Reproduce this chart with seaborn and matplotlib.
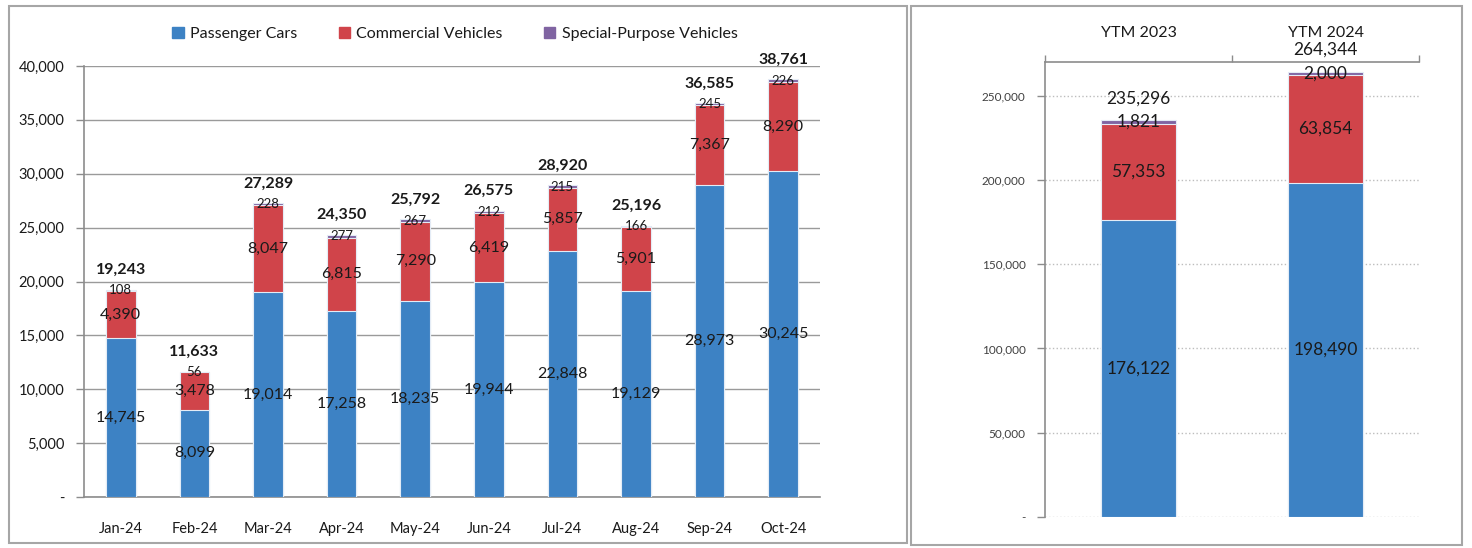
import numpy as np
import pandas as pd
import matplotlib.pyplot as plt
import matplotlib.patches as mpatches
from matplotlib.ticker import FuncFormatter, FixedLocator
import seaborn as sns

# monthly registrations 2024
months = ['Jan-24', 'Feb-24', 'Mar-24', 'Apr-24', 'May-24',
          'Jun-24', 'Jul-24', 'Aug-24', 'Sep-24', 'Oct-24']
passenger = [14745, 8099, 19014, 17258, 18235, 19944, 22848, 19129, 28973, 30245]
commercial = [4390, 3478, 8047, 6815, 7290, 6419, 5857, 5901, 7367, 8290]
special = [108, 56, 228, 277, 267, 212, 215, 166, 245, 226]

# year-to-month comparison
ytm_years = ['YTM 2023', 'YTM 2024']
ytm_passenger = [176122, 198490]
ytm_commercial = [57353, 63854]
ytm_special = [1821, 2000]

series_names = ['Passenger Cars', 'Commercial Vehicles', 'Special-Purpose Vehicles']
colors = ['#3d82c4', '#d0444a', '#8064a2']

sns.set_style('white')
plt.rcParams['font.family'] = ['Lato', 'DejaVu Sans']
TXT = '#1a1a1a'


def fmt(v, pos=None):
    return '-' if v == 0 else f'{v:,.0f}'


def stacked_bars(ax, cats, layers, width):
    # seaborn has no stacking, so draw cumulative heights from top layer down
    cum = np.cumsum(np.array(layers), axis=0)
    for i in reversed(range(len(layers))):
        df = pd.DataFrame({'cat': cats, 'val': cum[i]})
        sns.barplot(data=df, x='cat', y='val', order=cats, color=colors[i],
                    saturation=1, width=width, edgecolor='#e4ecf6',
                    linewidth=0.8, ax=ax, zorder=3)
    return cum


fig = plt.figure(figsize=(14.72, 5.48), dpi=100)

# panel frames
for x0, x1, y0, y1 in [(9, 907, 6, 543), (911, 1462, 6, 545)]:
    fig.patches.append(mpatches.Rectangle(
        (x0 / 1472, 1 - y1 / 548), (x1 - x0) / 1472, (y1 - y0) / 548,
        transform=fig.transFigure, fill=False, edgecolor='#a6a6a6', lw=1.5))

# ---------------- left: monthly ----------------
ax1 = fig.add_axes([84 / 1472, 1 - 497 / 548, (820 - 84) / 1472, (497 - 66) / 548])
cum = stacked_bars(ax1, months, [passenger, commercial, special], 0.4)
ax1.set_xlim(-0.5, len(months) - 0.5)
ax1.set_ylim(0, 40000)
ax1.set_yticks(np.arange(0, 40001, 5000))
ax1.yaxis.set_major_formatter(FuncFormatter(fmt))
ax1.grid(axis='y', color='#9a9a9a', lw=1, zorder=0)
ax1.set_axisbelow(True)
ax1.xaxis.set_minor_locator(FixedLocator(np.arange(-0.5, len(months), 1)))
ax1.tick_params(axis='x', which='major', length=0, pad=18, labelsize=10.5, colors=TXT)
ax1.tick_params(axis='x', which='minor', length=6, color='#8c8c8c', width=1)
ax1.tick_params(axis='y', length=6, color='#8c8c8c', width=1, labelsize=10.5,
                labelcolor=TXT, left=True, pad=8)
for s in ['top', 'right']:
    ax1.spines[s].set_visible(False)
for s in ['left', 'bottom']:
    ax1.spines[s].set_color('#8c8c8c')
    ax1.spines[s].set_linewidth(1.2)
ax1.set_xlabel('')
ax1.set_ylabel('')

for i in range(len(months)):
    ax1.text(i, passenger[i] / 2, fmt(passenger[i]), ha='center', va='center',
             fontsize=11.5, color=TXT, zorder=5)
    ax1.text(i, cum[0][i] + commercial[i] / 2, fmt(commercial[i]), ha='center',
             va='center', fontsize=11.5, color=TXT, zorder=5)
    ax1.text(i, cum[1][i] + special[i] / 2, fmt(special[i]), ha='center',
             va='center', fontsize=9.5, color=TXT, zorder=5)
    ax1.annotate(fmt(cum[2][i]), (i, cum[2][i]), xytext=(0, 14),
                 textcoords='offset points', ha='center', va='center',
                 fontsize=11.5, fontweight='bold', color=TXT, zorder=5,
                 annotation_clip=False)

handles = [mpatches.Patch(color=c, label=n) for c, n in zip(colors, series_names)]
fig.legend(handles=handles, loc='center', bbox_to_anchor=(455 / 1472, 1 - 34 / 548),
           ncol=3, frameon=False, fontsize=11.5, handlelength=0.7, handleheight=0.7,
           handletextpad=0.4, columnspacing=2.6, labelcolor=TXT)

# ---------------- right: year to month ----------------
ax2 = fig.add_axes([1045 / 1472, 1 - 517 / 548, (1419 - 1045) / 1472, (517 - 62) / 548])
cum2 = stacked_bars(ax2, ytm_years, [ytm_passenger, ytm_commercial, ytm_special], 0.4)
ax2.set_xlim(-0.5, len(ytm_years) - 0.5)
ax2.set_ylim(0, 270000)
ax2.set_yticks(np.arange(0, 250001, 50000))
ax2.yaxis.set_major_formatter(FuncFormatter(fmt))
ax2.grid(axis='y', color='#bdbdbd', lw=1, ls=':', zorder=0)
ax2.set_axisbelow(True)
ax2.xaxis.tick_top()
ax2.xaxis.set_minor_locator(FixedLocator(np.arange(-0.5, len(ytm_years), 1)))
ax2.tick_params(axis='x', which='major', length=0, pad=16, labelsize=11.5, colors=TXT,
                top=True, labeltop=True, bottom=False, labelbottom=False)
ax2.tick_params(axis='x', which='minor', length=5, color='#8c8c8c', width=1,
                top=True, bottom=False)
ax2.tick_params(axis='y', length=6, color='#8c8c8c', width=1, labelsize=8.5,
                labelcolor='#404040', left=True, pad=8)
for s in ['bottom', 'right']:
    ax2.spines[s].set_visible(False)
for s in ['left', 'top']:
    ax2.spines[s].set_color('#8c8c8c')
    ax2.spines[s].set_linewidth(1.2)
ax2.set_xlabel('')
ax2.set_ylabel('')

for i in range(len(ytm_years)):
    ax2.text(i, ytm_passenger[i] / 2, fmt(ytm_passenger[i]), ha='center', va='center',
             fontsize=12.5, color=TXT, zorder=5)
    ax2.text(i, cum2[0][i] + ytm_commercial[i] / 2, fmt(ytm_commercial[i]),
             ha='center', va='center', fontsize=12.5, color=TXT, zorder=5)
    ax2.text(i, cum2[1][i] + ytm_special[i] / 2, fmt(ytm_special[i]), ha='center',
             va='center', fontsize=12.5, color=TXT, zorder=5)
    ax2.annotate(fmt(cum2[2][i]), (i, cum2[2][i]), xytext=(0, 16),
                 textcoords='offset points', ha='center', va='center',
                 fontsize=12.5, color=TXT, zorder=5, annotation_clip=False)

fig.savefig('out.png', dpi=100)
